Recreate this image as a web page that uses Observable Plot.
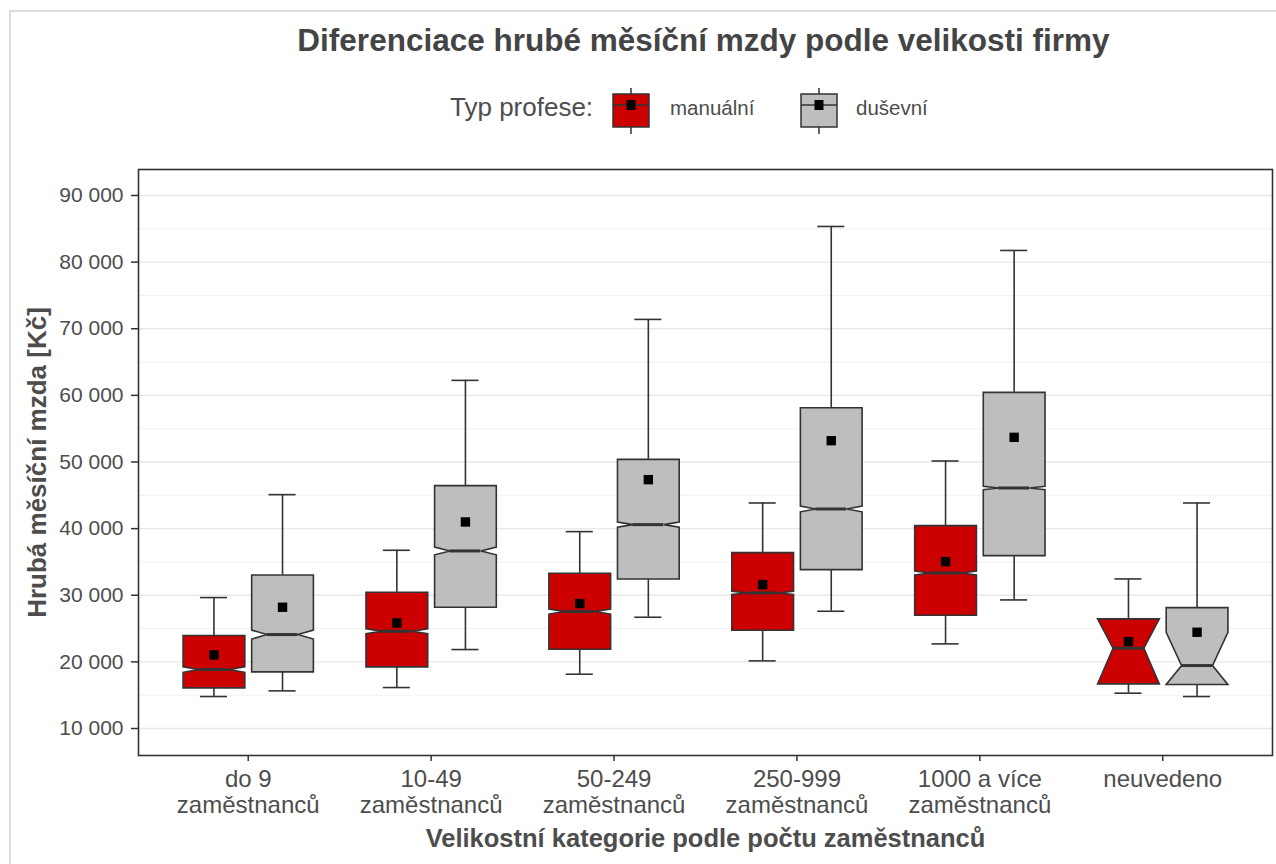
<!DOCTYPE html>
<html><head><meta charset="utf-8">
<script src="https://cdn.jsdelivr.net/npm/d3@7"></script>
<script src="https://cdn.jsdelivr.net/npm/@observablehq/plot@0.6"></script>
<style>
html,body{margin:0;padding:0;background:#fff;overflow:hidden;}
#wrap{position:relative;width:1276px;height:864px;overflow:hidden;font-family:"Liberation Sans",Arial,sans-serif;}
#border{position:absolute;left:9px;top:10px;width:1300px;height:900px;border:2px solid #dcdcdc;}
.txt{position:absolute;white-space:nowrap;line-height:1;}
#title{top:25.4px;left:703.5px;transform:translateX(-50%);font-weight:bold;font-size:31.5px;color:#444;}
#plot{position:absolute;left:0;top:140px;}
.key{position:absolute;top:88px;}
</style></head>
<body>
<div id="wrap">
  <div id="border"></div>
  <div id="title" class="txt"></div>
  <div id="legend"></div>
  <div id="plot"></div>
</div>
<script>
const chartTitle = "Diferenciace hrubé měsíční mzdy podle velikosti firmy";
const legendTitle = "Typ profese:";
const xTitle = "Velikostní kategorie podle počtu zaměstnanců";
const yTitle = "Hrubá měsíční mzda [Kč]";
const categories = ["do 9\nzaměstnanců", "10-49\nzaměstnanců", "50-249\nzaměstnanců", "250-999\nzaměstnanců", "1000 a více\nzaměstnanců", "neuvedeno"];
const types = ["manuální", "duševní"];
const typeColors = ["#CC0000", "#BEBEBE"];

const manualLow    = [14800, 16150, 18150, 20150, 22700, 15300];
const manualQ1     = [16100, 19250, 21900, 24750, 27000, 16700];
const manualMedian = [18850, 24600, 27550, 30350, 33350, 22050];
const manualQ3     = [23950, 30450, 33300, 36400, 40450, 26450];
const manualHigh   = [29650, 36750, 39550, 43850, 50150, 32450];
const manualMean   = [21050, 25850, 28750, 31600, 35050, 23050];
const manualNotchUp  = [19270, 24975, 27925, 30600, 33650, 26450];
const manualNotchLow = [18430, 24225, 27175, 30100, 33050, 16700];

const whiteLow    = [15650, 21850, 26700, 27600, 29300, 14800];
const whiteQ1     = [18500, 28200, 32450, 33850, 35950, 16600];
const whiteMedian = [24100, 36650, 40600, 42950, 46100, 19450];
const whiteQ3     = [33050, 46450, 50400, 58150, 60450, 28150];
const whiteHigh   = [45100, 62250, 71400, 85350, 81750, 43850];
const whiteMean   = [28200, 41000, 47350, 53200, 53700, 24450];
const whiteNotchUp  = [24775, 37230, 40975, 43375, 46350, 24450];
const whiteNotchLow = [23425, 36070, 40225, 42525, 45850, 16600];

const yMajorTicks = [10000, 20000, 30000, 40000, 50000, 60000, 70000, 80000, 90000];
const yMinorTicks = [15000, 25000, 35000, 45000, 55000, 65000, 75000, 85000];

// title
document.getElementById("title").textContent = chartTitle;

// legend
const legend = d3.select("#legend");
legend.append("div").attr("class", "txt")
  .style("left", "450px").style("top", "94.2px").style("font-size", "26px").style("color", "#4d4d4d")
  .text(legendTitle);
const keyLeft = [611, 799];
const labelLeft = [670, 856];
types.forEach((t, k) => {
  const svg = legend.append("svg").attr("class", "key")
    .style("left", keyLeft[k] + "px").attr("width", 40).attr("height", 48);
  svg.append("line").attr("x1", 20).attr("x2", 20).attr("y1", 0).attr("y2", 46)
    .attr("stroke", "#333").attr("stroke-width", 1.5);
  svg.append("rect").attr("x", 2).attr("y", 6).attr("width", 36).attr("height", 33)
    .attr("fill", typeColors[k]).attr("stroke", "#333").attr("stroke-width", 1.5);
  svg.append("line").attr("x1", 2).attr("x2", 38).attr("y1", 17).attr("y2", 17)
    .attr("stroke", "#333").attr("stroke-width", 1.5);
  svg.append("rect").attr("x", 15.5).attr("y", 12).attr("width", 9).attr("height", 10).attr("fill", "#000");
  legend.append("div").attr("class", "txt")
    .style("left", labelLeft[k] + "px").style("top", "97.8px").style("font-size", "20.5px").style("color", "#4d4d4d")
    .text(t);
});

// data table
const series = [
  {type: 0, lo: manualLow, q1: manualQ1, med: manualMedian, q3: manualQ3, hi: manualHigh, mean: manualMean, nu: manualNotchUp, nl: manualNotchLow},
  {type: 1, lo: whiteLow, q1: whiteQ1, med: whiteMedian, q3: whiteQ3, hi: whiteHigh, mean: whiteMean, nu: whiteNotchUp, nl: whiteNotchLow}
];
const dodge = 0.1875, halfW = 0.16875, indent = halfW / 2, capHalf = 0.074;
const boxes = [];
series.forEach(s => categories.forEach((c, i) => {
  const cx = i + (s.type === 0 ? -dodge : dodge);
  boxes.push({type: s.type, id: s.type + "-" + i, cx, x0: cx - halfW, x1: cx + halfW,
    lo: s.lo[i], q1: s.q1[i], med: s.med[i], q3: s.q3[i], hi: s.hi[i], mean: s.mean[i], nu: s.nu[i], nl: s.nl[i]});
}));
const poly = boxes.flatMap(b => [
  [b.x0, b.q3], [b.x0, b.nu], [b.x0 + indent, b.med], [b.x0, b.nl], [b.x0, b.q1],
  [b.x1, b.q1], [b.x1, b.nl], [b.x1 - indent, b.med], [b.x1, b.nu], [b.x1, b.q3]
].map(([x, y]) => ({id: b.id, type: b.type, x, y})));

const fmt = d => d3.format(",")(d).replace(/,/g, " ");
const line = {stroke: "#333", strokeWidth: 1.6};

const chart = Plot.plot({
  width: 1276, height: 724,
  marginLeft: 138, marginRight: 4, marginTop: 29, marginBottom: 109,
  style: {fontFamily: "'Liberation Sans', Arial, sans-serif", background: "transparent", color: "#333"},
  x: {type: "linear", domain: [-0.6, 5.6]},
  y: {domain: [5950, 93900]},
  marks: [
    Plot.ruleY(yMinorTicks, {stroke: "#f1f1f1", strokeWidth: 1}),
    Plot.ruleY(yMajorTicks, {stroke: "#e8e8e8", strokeWidth: 1.3}),
    Plot.ruleX(boxes, {x: "cx", y1: "q3", y2: "hi", ...line}),
    Plot.ruleX(boxes, {x: "cx", y1: "lo", y2: "q1", ...line}),
    Plot.ruleY(boxes, {y: "hi", x1: d => d.cx - capHalf, x2: d => d.cx + capHalf, ...line}),
    Plot.ruleY(boxes, {y: "lo", x1: d => d.cx - capHalf, x2: d => d.cx + capHalf, ...line}),
    ...types.map((t, k) => Plot.line(poly.filter(p => p.type === k), {
      x: "x", y: "y", z: "id", curve: "linear-closed", fill: typeColors[k], ...line,
      strokeLinejoin: "miter", strokeMiterlimit: 4})),
    Plot.ruleY(boxes, {y: "med", x1: d => d.x0 + indent, x2: d => d.x1 - indent, stroke: "#333", strokeWidth: 3}),
    Plot.dot(boxes, {x: "cx", y: "mean", symbol: "square", r: 5.3, fill: "#000"}),
    Plot.frame({stroke: "#333", strokeWidth: 1.6}),
    Plot.axisY({ticks: yMajorTicks, tickFormat: fmt, tickSize: 7, tickPadding: 8, fontSize: 21,
      fill: "#4d4d4d", stroke: "#333", strokeWidth: 1.5, label: null}),
    Plot.axisX({ticks: d3.range(categories.length), tickFormat: i => categories[i], tickSize: 6, tickPadding: 7,
      fontSize: 24, lineHeight: 1.08, fill: "#4d4d4d", stroke: "#333", strokeWidth: 1.5, label: null}),
    Plot.text([xTitle], {frameAnchor: "bottom", dy: 83, fontSize: 25.5, fontWeight: "bold", fill: "#4d4d4d", lineAnchor: "middle"}),
    Plot.text([yTitle], {frameAnchor: "left", dx: -101, rotate: -90, fontSize: 26, fontWeight: "bold", fill: "#4d4d4d",
      textAnchor: "middle", lineAnchor: "middle"})
  ]
});
document.getElementById("plot").appendChild(chart);
</script>
</body></html>
